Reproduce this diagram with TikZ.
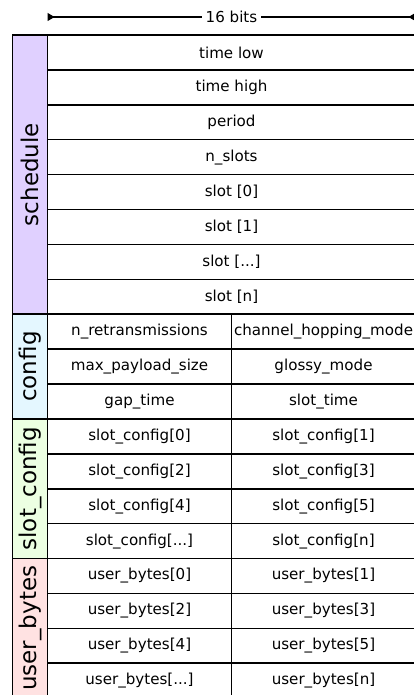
\documentclass[tikz,border=0pt]{standalone}
\usepackage{fontspec}
\setmainfont{DejaVu Sans}
\usetikzlibrary{arrows.meta}
\definecolor{schedcol}{RGB}{224,208,255}
\definecolor{confcol}{RGB}{228,247,255}
\definecolor{slotcol}{RGB}{236,255,226}
\definecolor{usercol}{RGB}{255,226,226}
\newcommand{\mydots}{...}
\begin{document}
\begin{tikzpicture}[x=1pt,y=-1pt,
  cell/.style={draw, line width=1.6pt, rectangle, minimum height=34.9pt, inner sep=0pt, font=\fontsize{15.1}{17}\selectfont, anchor=center},
  full/.style={cell, minimum width=368pt},
  half/.style={cell, minimum width=184pt},
  grp/.style={draw, line width=1.6pt, rotate=90, minimum height=35pt, inner sep=0pt, font=\fontsize{23}{25}\selectfont},
  dim/.style={line width=1.1pt, arrows={Triangle[reversed,length=7pt,width=8pt]-Triangle[reversed,length=7pt,width=8pt]}},
]
\useasboundingbox (0,0) rectangle (414,695);
\clip (0,0) rectangle (414,695);
% dimension line
\coordinate (dl) at (47.5,17);
\coordinate (dr) at (415.5,17);
\draw[dim] (dl) -- (dr);
\node[fill=white, inner xsep=4pt, inner ysep=1pt, font=\fontsize{15.1}{17}\selectfont] (bits) at (231.5,17) {16 bits};
% group labels
\node[grp, fill=schedcol, minimum width=279.2pt] (gsched) at (30,{35+4*34.9}) {schedule};
\node[grp, fill=confcol, minimum width=104.7pt] (gconf) at (30,{35+9.5*34.9}) {config};
\node[grp, fill=slotcol, minimum width=139.6pt] (gslot) at (30,{35+13*34.9}) {slot\_config};
\node[grp, fill=usercol, minimum width=139.6pt] (guser) at (30,{35+17*34.9}) {user\_bytes};
% schedule rows
\foreach \t [count=\i from 0] in {time low,time high,period,n\_slots,slot [0],slot [1],slot [\mydots],slot [n]}{
  \node[full] (s\i) at (231.5,{35+34.9*(\i+0.5)}) {\t};
}
% two-column rows
\foreach \a/\b [count=\i from 8] in {
  n\_retransmissions/channel\_hopping\_mode,
  max\_payload\_size/glossy\_mode,
  gap\_time/slot\_time,
  slot\_config[0]/slot\_config[1],
  slot\_config[2]/slot\_config[3],
  slot\_config[4]/slot\_config[5],
  slot\_config[\mydots]/slot\_config[n],
  user\_bytes[0]/user\_bytes[1],
  user\_bytes[2]/user\_bytes[3],
  user\_bytes[4]/user\_bytes[5],
  user\_bytes[\mydots]/user\_bytes[n]}{
  \node[half] (l\i) at (139.5,{35+34.9*(\i+0.5)}) {\a};
  \node[half] (r\i) at (323.5,{35+34.9*(\i+0.5)}) {\b};
}
\end{tikzpicture}
\end{document}
